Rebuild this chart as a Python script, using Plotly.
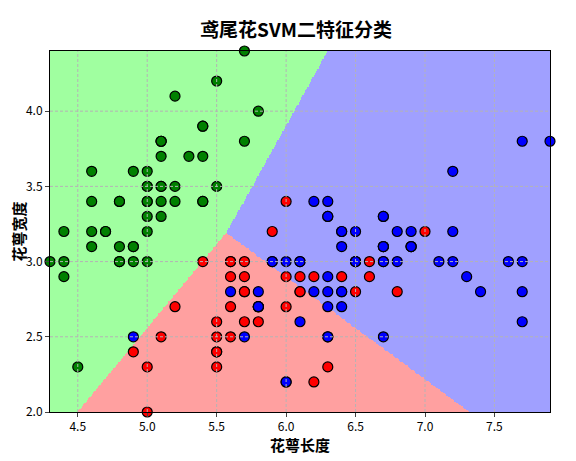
import numpy as np
import plotly.graph_objects as go

# iris sepal length / width
setosa_x = [5.1,4.9,4.7,4.6,5.0,5.4,4.6,5.0,4.4,4.9,5.4,4.8,4.8,4.3,5.8,5.7,5.4,5.1,5.7,5.1,5.4,5.1,4.6,5.1,4.8,5.0,5.0,5.2,5.2,4.7,4.8,5.4,5.2,5.5,4.9,5.0,5.5,4.9,4.4,5.1,5.0,4.5,4.4,5.0,5.1,4.8,5.1,4.6,5.3,5.0]
setosa_y = [3.5,3.0,3.2,3.1,3.6,3.9,3.4,3.4,2.9,3.1,3.7,3.4,3.0,3.0,4.0,4.4,3.9,3.5,3.8,3.8,3.4,3.7,3.6,3.3,3.4,3.0,3.4,3.5,3.4,3.2,3.1,3.4,4.1,4.2,3.1,3.2,3.5,3.6,3.0,3.4,3.5,2.3,3.2,3.5,3.8,3.0,3.8,3.2,3.7,3.3]
versi_x = [7.0,6.4,6.9,5.5,6.5,5.7,6.3,4.9,6.6,5.2,5.0,5.9,6.0,6.1,5.6,6.7,5.6,5.8,6.2,5.6,5.9,6.1,6.3,6.1,6.4,6.6,6.8,6.7,6.0,5.7,5.5,5.5,5.8,6.0,5.4,6.0,6.7,6.3,5.6,5.5,5.5,6.1,5.8,5.0,5.6,5.7,5.7,6.2,5.1,5.7]
versi_y = [3.2,3.2,3.1,2.3,2.8,2.8,3.3,2.4,2.9,2.7,2.0,3.0,2.2,2.9,2.9,3.1,3.0,2.7,2.2,2.5,3.2,2.8,2.5,2.8,2.9,3.0,2.8,3.0,2.9,2.6,2.4,2.4,2.7,2.7,3.0,3.4,3.1,2.3,3.0,2.5,2.6,3.0,2.6,2.3,2.7,3.0,2.9,2.9,2.5,2.8]
virg_x = [6.3,5.8,7.1,6.3,6.5,7.6,4.9,7.3,6.7,7.2,6.5,6.4,6.8,5.7,5.8,6.4,6.5,7.7,7.7,6.0,6.9,5.6,7.7,6.3,6.7,7.2,6.2,6.1,6.4,7.2,7.4,7.9,6.4,6.3,6.1,7.7,6.3,6.4,6.0,6.9,6.7,6.9,5.8,6.8,6.7,6.7,6.3,6.5,6.2,5.9]
virg_y = [3.3,2.7,3.0,2.9,3.0,3.0,2.5,2.9,2.5,3.6,3.2,2.7,3.0,2.5,2.8,3.2,3.0,3.8,2.6,2.2,3.2,2.8,2.8,2.7,3.3,3.2,2.8,3.0,2.8,3.0,2.8,3.8,2.8,2.8,2.6,3.0,3.4,3.1,3.0,3.1,3.1,3.1,2.7,3.2,3.3,3.0,2.5,3.0,3.4,3.0]

# decision boundaries: meeting point and ray endpoints
meet = (5.57, 3.19)
ray_green_red = (4.5, 2.0)
ray_green_blue = (6.3, 4.4)
ray_red_blue = (7.32, 2.0)

x_range = [4.3, 7.9]
y_range = [2.0, 4.4]
x_ticks = [4.5, 5.0, 5.5, 6.0, 6.5, 7.0, 7.5]
y_ticks = [2.0, 2.5, 3.0, 3.5, 4.0]


def ang(p):
    return np.degrees(np.arctan2(p[1] - meet[1], p[0] - meet[0])) % 360


gx = np.linspace(*x_range, 400)
gy = np.linspace(*y_range, 300)
XX, YY = np.meshgrid(gx, gy)
A = np.degrees(np.arctan2(YY - meet[1], XX - meet[0])) % 360
a_gb, a_gr, a_rb = ang(ray_green_blue), ang(ray_green_red), ang(ray_red_blue)
Z = np.full(A.shape, 2)
Z[(A >= a_gb) & (A < a_gr)] = 0
Z[(A >= a_gr) & (A < a_rb)] = 1

fig = go.Figure()
fig.add_trace(go.Heatmap(x=gx, y=gy, z=Z, zmin=0, zmax=2, showscale=False, hoverinfo="skip",
                         colorscale=[[0, "#A0FFA0"], [0.33, "#A0FFA0"], [0.34, "#FFA0A0"],
                                     [0.66, "#FFA0A0"], [0.67, "#A0A0FF"], [1, "#A0A0FF"]]))
for xs, ys, c in [(setosa_x, setosa_y, "#008000"), (versi_x, versi_y, "#FF0000"), (virg_x, virg_y, "#0000FF")]:
    fig.add_trace(go.Scatter(x=xs, y=ys, mode="markers", cliponaxis=False,
                             marker=dict(color=c, size=10, line=dict(color="black", width=1.2))))

# dashed grid drawn over the coloured regions
grid = dict(color="#b4b4b4", width=1, dash="3px,2px")
for v in x_ticks:
    fig.add_shape(type="line", x0=v, x1=v, y0=0, y1=1, xref="x", yref="paper", line=grid, layer="above")
for v in y_ticks[1:]:
    fig.add_shape(type="line", y0=v, y1=v, x0=0, x1=1, yref="y", xref="paper", line=grid, layer="above")

axis = dict(showline=True, linecolor="black", mirror=True, ticks="outside", ticklen=4,
            showgrid=False, zeroline=False, automargin=False,
            layer="above traces", tickfont=dict(size=12, color="black"))
fig.update_layout(
    width=576, height=461, showlegend=False,
    paper_bgcolor="white", plot_bgcolor="white",
    margin=dict(l=42, r=34, t=43, b=57),
    font=dict(family="Noto Sans CJK SC, sans-serif", color="black"),
    title=dict(text="<b>鸢尾花SVM二特征分类</b>", x=0.5, xanchor="center", y=0.965, font=dict(size=19)),
    xaxis=dict(axis, range=x_range, tickvals=x_ticks, tickformat=".1f",
               title=dict(text="<b>花萼长度</b>", font=dict(size=15), standoff=4)),
    yaxis=dict(axis, range=y_range, tickvals=y_ticks, tickformat=".1f",
               title=dict(text="<b>花萼宽度</b>", font=dict(size=15), standoff=2)),
)
fig.write_html("out.html")
